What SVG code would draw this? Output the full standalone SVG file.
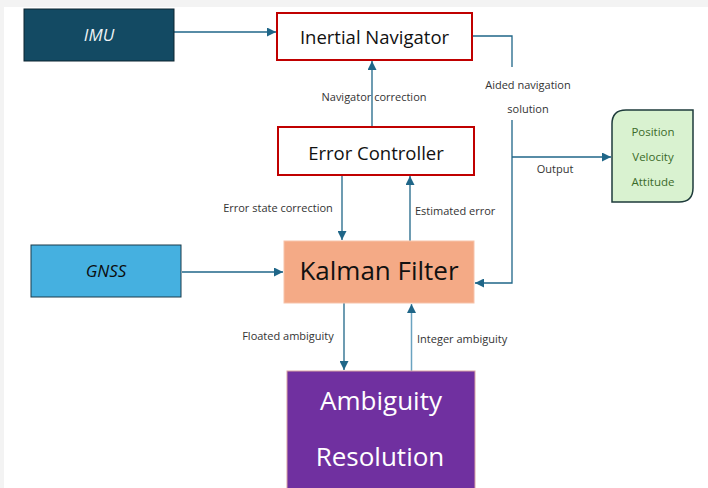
<svg xmlns="http://www.w3.org/2000/svg" width="708" height="488" viewBox="0 0 708 488">
  <defs>
    <marker id="arrow" viewBox="0 0 10 10" refX="10" refY="5" markerWidth="9" markerHeight="9" markerUnits="userSpaceOnUse" orient="auto">
      <path d="M0,0 L10,5 L0,10 Z" fill="#1f6688"/>
    </marker>
  </defs>
  <style>
    text { font-family: "Open Sans", "Noto Sans", "Liberation Sans", sans-serif; }
    .wire { fill: none; stroke: #1f6688; stroke-width: 1.3; }
    .wire-light { fill: none; stroke: #6aa3c0; stroke-width: 1.5; }
    .lbl { font-size: 11px; fill: #333333; }
    .title { font-size: 18.5px; fill: #111111; text-anchor: middle; }
    .out { font-size: 11.5px; fill: #3b6b2a; text-anchor: middle; }
  </style>

  <!-- canvas -->
  <rect x="0" y="0" width="708" height="488" fill="#f3f3f3"/>
  <rect x="4" y="7" width="704" height="481" fill="#ffffff"/>

  <!-- connectors -->
  <g id="connectors">
    <path class="wire" d="M174,32 H276" marker-end="url(#arrow)"/>
    <path class="wire" d="M372,127 V61" marker-end="url(#arrow)"/>
    <path class="wire" d="M472,36 H512 V67"/>
    <path class="wire" d="M512,120 V283 H475" marker-end="url(#arrow)"/>
    <path class="wire" d="M512,157 H611" marker-end="url(#arrow)"/>
    <path class="wire" d="M342,175 V240" marker-end="url(#arrow)"/>
    <path class="wire" d="M410,241 V176" marker-end="url(#arrow)"/>
    <path class="wire" d="M182,272 H283" marker-end="url(#arrow)"/>
    <path class="wire" d="M344,303 V370" marker-end="url(#arrow)"/>
    <path class="wire-light" d="M411.5,371 V304" marker-end="url(#arrow)"/>

    <text class="lbl" x="374" y="101" text-anchor="middle">Navigator correction</text>
    <text class="lbl" x="528" y="89" text-anchor="middle">Aided navigation</text>
    <text class="lbl" x="528" y="113" text-anchor="middle">solution</text>
    <text class="lbl" x="555" y="173" text-anchor="middle">Output</text>
    <text class="lbl" x="278" y="212" text-anchor="middle">Error state correction</text>
    <text class="lbl" x="415" y="215">Estimated error</text>
    <text class="lbl" x="288" y="340" text-anchor="middle">Floated ambiguity</text>
    <text class="lbl" x="417" y="343">Integer ambiguity</text>
  </g>

  <!-- nodes -->
  <g id="imu">
    <rect x="24" y="9" width="150" height="52" fill="#134a63" stroke="#0d2430" stroke-width="1"/>
    <text x="99" y="41" font-size="17" font-style="italic" fill="#eef3f6" text-anchor="middle">IMU</text>
  </g>

  <g id="inertial-navigator">
    <rect x="277" y="13" width="195" height="47" fill="#ffffff" stroke="#c00000" stroke-width="2"/>
    <text class="title" x="374.5" y="44">Inertial Navigator</text>
  </g>

  <g id="error-controller">
    <rect x="278" y="127" width="196" height="48" fill="#ffffff" stroke="#c00000" stroke-width="2"/>
    <text class="title" x="376" y="160" font-size="19">Error Controller</text>
  </g>

  <g id="gnss">
    <rect x="31" y="245" width="150" height="52" fill="#45b0e0" stroke="#1a3a4a" stroke-width="1"/>
    <text x="106" y="277" font-size="17" font-style="italic" fill="#0c0c0c" text-anchor="middle">GNSS</text>
  </g>

  <g id="kalman-filter">
    <rect x="284" y="241" width="190" height="62" fill="#f4aa86" stroke="#f7c3aa" stroke-width="1"/>
    <text x="379" y="280" font-size="26" fill="#111111" text-anchor="middle">Kalman Filter</text>
  </g>

  <g id="ambiguity-resolution">
    <rect x="287" y="371" width="188" height="122" fill="#7030a0" stroke="#d9a3a3" stroke-width="1"/>
    <text x="381" y="410" font-size="26" fill="#ffffff" text-anchor="middle">Ambiguity</text>
    <text x="380" y="466" font-size="26" fill="#ffffff" text-anchor="middle">Resolution</text>
  </g>

  <g id="navigation-output">
    <path d="M626,110 H693 V188 Q693,202 679,202 H612 V124 Q612,110 626,110 Z" fill="#d9f2d0" stroke="#1e3b3b" stroke-width="1.5"/>
    <text class="out" x="653" y="136">Position</text>
    <text class="out" x="653" y="161">Velocity</text>
    <text class="out" x="653" y="186">Attitude</text>
  </g>
</svg>
